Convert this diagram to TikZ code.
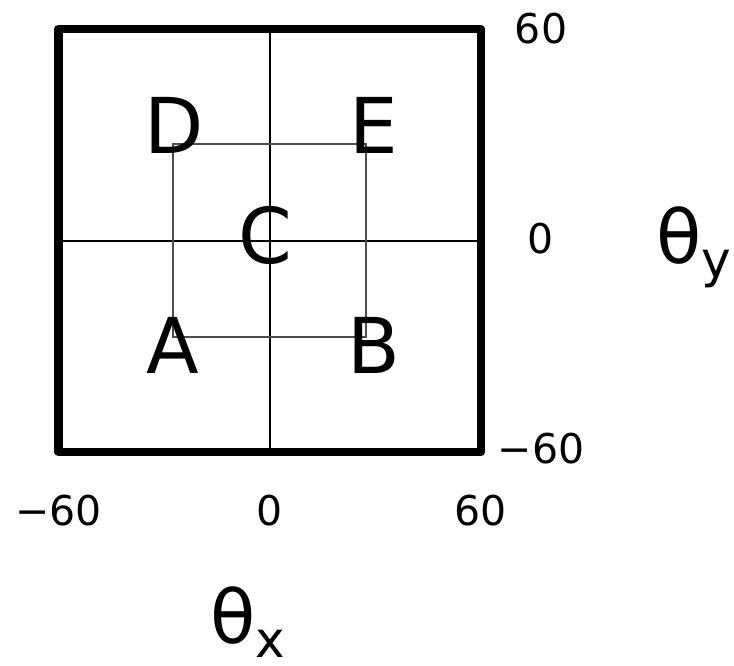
\documentclass[tikz,border=0pt]{standalone}
\usepackage{fontspec}
\setmainfont{DejaVu Sans}
\newcommand{\angsub}[1]{\raisebox{-10.5pt}{\fontsize{37.5}{40}\selectfont #1}}

\begin{document}
\begin{tikzpicture}[x=0.75pt, y=-0.75pt,
    frame/.style={draw, line width=6.4pt, line join=round},
    axis/.style={draw, line width=1.5pt},
    route/.style={draw, line width=1.6pt, black!70},
    pt/.style={font=\fontsize{57.75}{60}\selectfont, inner sep=0pt, anchor=base},
    tick/.style={font=\fontsize{30.75}{32}\selectfont, inner sep=0pt, anchor=base},
    ang/.style={font=\fontsize{55.5}{58}\selectfont, inner sep=0pt, anchor=base west}
]
\useasboundingbox (0,0) rectangle (734,665);

% outer square and axes
\coordinate (SW) at (58.5,452);
\coordinate (NE) at (481,29);
\coordinate (top) at (270,29);
\coordinate (bot) at (270,452);
\coordinate (lft) at (58.5,240.5);
\coordinate (rgt) at (481,240.5);
\draw[axis] (top) -- (bot);
\draw[axis] (lft) -- (rgt);
\draw[frame] (SW) rectangle (NE);

% inner path
\coordinate (a) at (173,337);
\coordinate (b) at (366,337);
\coordinate (e) at (366,144);
\coordinate (d) at (173,144);
\draw[route] (a) -- (b) -- (e) -- (d) -- cycle;

\node[pt] (A) at (172.5,373) {A};
\node[pt] (B) at (373.5,373) {B};
\node[pt] (C) at (265.5,263) {C};
\node[pt] (D) at (174,153) {D};
\node[pt] (E) at (374,153) {E};

% tick labels
\node[tick] (y60) at (541,43) {60};
\node[tick] (y0) at (541,253) {0};
\node[tick] (ym60) at (541,463) {−60};
\node[tick] (xm60) at (58.5,525) {−60};
\node[tick] (x0) at (270,525) {0};
\node[tick] (x60) at (481,525) {60};

\node[ang] (thy) at (656,263) {θ\angsub{y}};
\node[ang] (thx) at (210,643) {θ\angsub{x}};
\end{tikzpicture}
\end{document}
